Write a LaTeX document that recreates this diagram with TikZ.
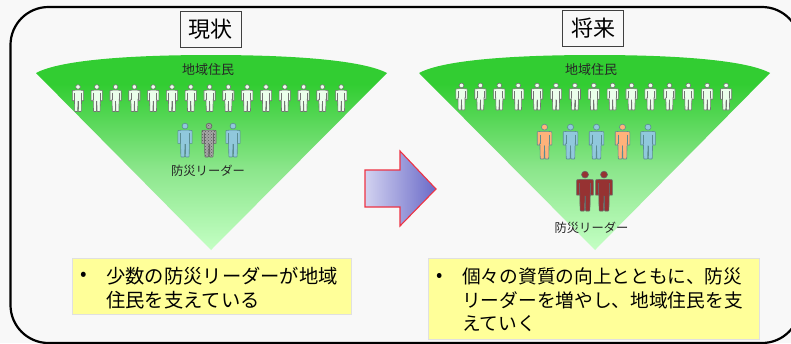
\documentclass[tikz,border=0pt]{standalone}
\usepackage{fontspec}
\newfontfamily\cjk{Noto Sans CJK JP}
\usetikzlibrary{patterns}
\definecolor{pagebg}{HTML}{F8F8F8}
\definecolor{limeg}{HTML}{32CD32}
\definecolor{notey}{HTML}{FFFF99}
\definecolor{pblue}{HTML}{90C8DC}
\definecolor{porange}{HTML}{FFB27A}
\definecolor{pred}{HTML}{963232}
\definecolor{funnelbot}{HTML}{C4FFC4}
\definecolor{funnelmid}{HTML}{8CE68C}
\definecolor{pedge}{HTML}{5A8C92}
\definecolor{arrowl}{HTML}{D2D2F0}
\definecolor{arrowr}{HTML}{6A6AC8}
\definecolor{arrowe}{HTML}{EE3344}
\pgfdeclareverticalshading{funnelshade}{100bp}{color(0bp)=(funnelbot);color(25bp)=(funnelbot);color(45.5bp)=(funnelmid);color(67.5bp)=(limeg);color(100bp)=(limeg)}
\tikzset{
  funnel/.style={shading=funnelshade,draw=none},
  titlebox/.style={draw=black!75,line width=0.9pt,fill=pagebg,minimum width=61pt,minimum height=36pt,inner sep=0pt,font=\cjk\fontsize{22}{24}\selectfont},
  notebox/.style={fill=notey,draw=black!12,line width=0.6pt},
  notetext/.style={anchor=west,align=left,inner sep=0pt,text=black},
  smalllabel/.style={font=\cjk\fontsize{13}{15}\selectfont,text=black!85,inner sep=0pt},
  leaderlabel/.style={font=\cjk\fontsize{12.3}{14}\selectfont,text=black!85,inner sep=0pt},
  pwhite/.style={fill=white!92!green},
  pcheck/.style={preaction={fill=black!35},pattern=crosshatch dots,pattern color=black!65},
}
% person: x, y of head top, height, fill options, outline colour
\newcommand{\figperson}[5]{%
  \begin{scope}[shift={(#1,#2)},x=#3/115*1pt,y=-#3/100*1pt]
    \path[#4,draw=#5,line width=0.6pt,line join=round]
      (-11,21) -- (11,21) -- (23,22) -- (24,25) -- (24,60) -- (16,60) -- (15,54)
      -- (15,60) -- (14,98) -- (12,100) -- (3,100) -- (1.5,98) -- (0,62)
      -- (-1.5,98) -- (-3,100) -- (-12,100) -- (-14,98) -- (-15,60)
      -- (-15,54) -- (-16,60) -- (-24,60) -- (-24,25) -- (-23,22) -- cycle;
    \path[#4,draw=#5,line width=0.6pt] (0,9) ellipse [x radius=10,y radius=8.5];
    \draw[#5,line width=0.7pt] (15,30) -- (15,56) (-15,30) -- (-15,56) (0,62) -- (0,90);
  \end{scope}}
\begin{document}
\begin{tikzpicture}[x=1pt,y=-1pt]
\useasboundingbox (0,0) rectangle (791,343);
\clip (0,0) rectangle (791,343);
\fill[pagebg] (0,0) rectangle (791,343);
\draw[black,line width=2.2pt,rounded corners=38pt] (10.5,7) rectangle (800,343);
% funnels
\path[funnel] (36,73) .. controls (60,60) and (130,55) .. (211,55) .. controls (292,55) and (362,60) .. (387,73) -- (211,250) -- cycle;
\path[funnel] (419,73) .. controls (443,60) and (513,55) .. (595,55) .. controls (676,55) and (746,60) .. (770,73) -- (595,250) -- cycle;
% title boxes
\node[titlebox] (ttlA) at (210.5,29) {現状};
\node[titlebox] (ttlB) at (593,28) {将来};
% labels
\node[smalllabel] (resA) at (208,70) {地域住民};
\node[smalllabel] (resB) at (591,70) {地域住民};
\node[leaderlabel] (ldrA) at (208,171) {防災リーダー};
\node[leaderlabel] (ldrB) at (591.5,227.5) {防災リーダー};
% residents
\foreach \i in {0,...,14}{
  \figperson{78+18.8*\i}{84.5}{27}{pwhite}{black!55}
  \figperson{461.5+18.9*\i}{83}{27}{pwhite}{black!55}
}
% leaders, left
\figperson{185}{123}{34}{fill=pblue}{pedge}
\figperson{209}{123}{34}{pcheck}{black!60}
\figperson{233}{123}{34}{fill=pblue}{pedge}
% leaders, right
\figperson{544.5}{124}{35}{fill=porange}{pedge}
\figperson{570.5}{124}{35}{fill=pblue}{pedge}
\figperson{596.5}{124}{35}{fill=pblue}{pedge}
\figperson{622.5}{124}{35}{fill=porange}{pedge}
\figperson{648}{124}{35}{fill=pblue}{pedge}
\figperson{585}{171}{40}{fill=pred}{black!60}
\figperson{604}{171}{40}{fill=pred}{black!60}
% arrow
\path[draw=arrowe,line width=1.1pt,left color=arrowl,right color=arrowr]
  (365,170) -- (400,170) -- (400,151) -- (436,189) -- (400,226) -- (400,207) -- (365,207) -- cycle;
% note boxes
\path[notebox] (72,258) rectangle (351,314);
\path[notebox] (428,258) rectangle (759,339);
\node[notetext,font=\cjk\fontsize{19.3}{24}\selectfont] (bulA) at (80,276.5) {•};
\node[notetext,font=\cjk\fontsize{19.3}{24}\selectfont] (txtA) at (106,288.5) {少数の防災リーダーが地域\\住民を支えている};
\node[notetext,font=\cjk\fontsize{18.7}{23.5}\selectfont] (bulB) at (436,277) {•};
\node[notetext,font=\cjk\fontsize{18.7}{23.5}\selectfont] (txtB) at (462,300) {個々の資質の向上とともに、防災\\リーダーを増やし、地域住民を支\\えていく};
\end{tikzpicture}
\end{document}
